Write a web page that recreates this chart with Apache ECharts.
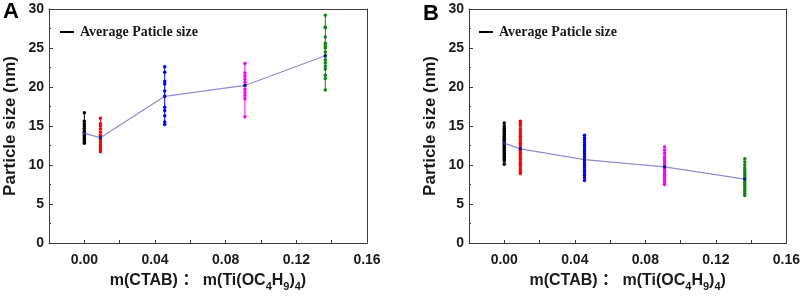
<!DOCTYPE html>
<html><head><meta charset="utf-8">
<script src="https://cdn.jsdelivr.net/npm/echarts@6/dist/echarts.min.js"></script>
<style>html,body{margin:0;padding:0;background:#fff}#c{width:803px;height:297px}</style>
</head><body><div id="c"></div>
<script>
// x positions: m(CTAB):m(Ti(OC4H9)4) ratios
const ratios = [0, 0.0091, 0.0455, 0.0909, 0.1364];
const groupColors = ['#000000', '#ff0000', '#0000ff', '#ff00ff', '#0a870a'];
const xTickLabels = ['0.00', '0.04', '0.08', '0.12', '0.16'];

// Panel A: individual particle sizes (nm)
const a0 = [16.7, 15.6, 15.3, 15.0, 14.7, 14.4, 14.2, 14.0, 13.8, 13.6, 13.4, 13.2, 13.0, 12.8];
const a1 = [16.0, 15.3, 15.0, 14.6, 14.2, 13.8, 13.5, 13.2, 12.9, 12.6, 12.3, 12.0, 11.7];
const a2 = [22.6, 21.9, 20.7, 20.4, 19.5, 18.8, 17.4, 17.0, 16.3, 15.5, 15.2];
const a3 = [23.0, 21.8, 21.4, 21.0, 20.6, 20.2, 19.7, 19.3, 18.9, 18.5, 16.2];
const a4 = [29.2, 27.7, 27.6, 26.4, 25.6, 25.3, 25.0, 24.5, 24.0, 23.5, 23.1, 22.7, 22.3, 21.5, 21.1, 19.6];
const avgA = [14.05, 13.5, 18.8, 20.2, 24.0];

// Panel B: individual particle sizes (nm)
const b0 = [15.4, 15.0, 14.7, 14.5, 14.3, 14.1, 13.9, 13.7, 13.5, 13.3, 13.1, 12.9, 12.7, 12.5, 12.3, 12.1, 11.9, 11.7, 11.5, 11.3, 11.1, 10.9, 10.7, 10.5, 10.1];
const b1 = [15.6, 15.3, 15.0, 14.6, 14.3, 14.0, 13.7, 13.4, 13.1, 12.8, 12.5, 12.2, 11.9, 11.6, 11.3, 11.0, 10.7, 10.4, 10.1, 9.8, 9.5, 9.2, 8.9];
const b2 = [13.8, 13.5, 13.2, 12.9, 12.6, 12.3, 12.0, 11.7, 11.4, 11.1, 10.8, 10.5, 10.2, 9.9, 9.6, 9.3, 9.0, 8.7, 8.4, 8.0];
const b3 = [12.3, 11.9, 11.5, 11.1, 10.8, 10.5, 10.2, 9.9, 9.6, 9.3, 9.0, 8.7, 8.4, 8.1, 7.8, 7.5];
const b4 = [10.8, 10.4, 10.0, 9.6, 9.3, 9.0, 8.7, 8.4, 8.1, 7.8, 7.5, 7.2, 6.9, 6.6, 6.3, 6.1];
const avgB = [12.8, 12.07, 10.7, 9.75, 8.2];

const legendName = 'Average Paticle size';
const SANS = "'Liberation Sans', Arial, 'Noto Sans CJK SC', sans-serif";
const SERIF = "'Liberation Serif', 'Times New Roman', serif";
const FRAME = '#3a3a3a';

const groupsA = [a0, a1, a2, a3, a4];
const groupsB = [b0, b1, b2, b3, b4];

function xAxisFor(gi) {
  return {
    type: 'value', gridIndex: gi, position: 'bottom', min: -0.02, max: 0.16, interval: 0.02,
    name: '{t|m(CTAB) ： m(Ti(OC}{s|4}{t|H}{s|9}{t|)}{s|4}{t|)}',
    nameLocation: 'middle', nameGap: 27,
    nameTextStyle: {
      rich: {
        t: { fontFamily: SANS, fontWeight: 'bold', fontSize: 16, color: '#1a1a1a', lineHeight: 22 },
        s: { fontFamily: SANS, fontWeight: 'bold', fontSize: 11, color: '#1a1a1a', lineHeight: 11, verticalAlign: 'bottom' }
      }
    },
    axisLine: { show: true, onZero: false, lineStyle: { color: FRAME, width: 1 } },
    axisTick: { show: true, inside: true, length: 3, lineStyle: { color: FRAME } },
    splitLine: { show: false },
    axisLabel: {
      fontFamily: SANS, fontWeight: 'bold', fontSize: 14, color: '#1a1a1a', margin: 10,
      formatter: function (v) {
        const k = Math.round(v / 0.02);
        if (k < 0 || k % 2 !== 0) return '';
        const s = v.toFixed(2);
        return xTickLabels.indexOf(s) >= 0 ? s : '';
      }
    }
  };
}
function xTopFor(gi) {
  return {
    type: 'value', gridIndex: gi, position: 'top', min: -0.02, max: 0.16,
    axisLine: { show: true, onZero: false, lineStyle: { color: FRAME, width: 1 } },
    axisTick: { show: false }, axisLabel: { show: false }, splitLine: { show: false }
  };
}
function yAxisFor(gi) {
  return {
    type: 'value', gridIndex: gi, position: 'left', min: 0, max: 30, interval: 5,
    name: 'Particle size (nm)', nameLocation: 'middle', nameGap: 30,
    nameTextStyle: { fontFamily: SANS, fontWeight: 'bold', fontSize: 17, color: '#1a1a1a' },
    axisLine: { show: true, onZero: false, lineStyle: { color: FRAME, width: 1 } },
    axisTick: { show: true, inside: true, length: 4, lineStyle: { color: FRAME } },
    minorTick: { show: true, splitNumber: 2, length: 2, lineStyle: { color: FRAME } },
    splitLine: { show: false },
    axisLabel: { fontFamily: SANS, fontWeight: 'bold', fontSize: 14, color: '#1a1a1a', margin: 5 }
  };
}
function yRightFor(gi) {
  return {
    type: 'value', gridIndex: gi, position: 'right', min: 0, max: 30,
    axisLine: { show: true, onZero: false, lineStyle: { color: FRAME, width: 1 } },
    axisTick: { show: false }, axisLabel: { show: false }, splitLine: { show: false }
  };
}

const series = [];
function addPanel(gi, groups, avg) {
  groups.forEach(function (vals, i) {
    series.push({
      type: 'line', xAxisIndex: gi, yAxisIndex: gi,
      data: vals.map(function (v) { return [ratios[i], v]; }),
      symbol: 'circle', symbolSize: 3.5,
      itemStyle: { color: groupColors[i] },
      lineStyle: { color: groupColors[i], width: 1 },
      silent: true, animation: false, z: 2
    });
  });
  series.push({
    name: legendName, type: 'line', xAxisIndex: gi, yAxisIndex: gi,
    data: avg.map(function (v, i) { return [ratios[i], v]; }),
    symbol: 'rect', symbolSize: 3,
    itemStyle: { color: '#1a1a8c' },
    lineStyle: { color: '#8c8cd2', width: 1.2 },
    animation: false, z: 3
  });
}
addPanel(0, groupsA, avgA);
addPanel(1, groupsB, avgB);

const legendCommon = {
  orient: 'horizontal', itemWidth: 14, itemHeight: 2, itemGap: 5, padding: 0,
  selectedMode: false,
  data: [{ name: legendName, icon: 'rect', itemStyle: { color: '#000' } }],
  textStyle: { fontFamily: SERIF, fontWeight: 'bold', fontSize: 14, color: '#1a1a1a', padding: [0, 0, 0, 1] }
};

const option = {
  backgroundColor: '#fff',
  animation: false,
  title: [
    { text: 'A', left: 3, top: 1, padding: 0, textStyle: { fontFamily: SANS, fontWeight: 'bold', fontSize: 22, color: '#000' } },
    { text: 'B', left: 423, top: 3, padding: 0, textStyle: { fontFamily: SANS, fontWeight: 'bold', fontSize: 22, color: '#000' } }
  ],
  legend: [
    Object.assign({}, legendCommon, { left: 60, top: 25 }),
    Object.assign({}, legendCommon, { left: 479, top: 25 })
  ],
  grid: [
    { left: 49, top: 9, width: 318, height: 237 },
    { left: 469, top: 9, width: 318, height: 236 }
  ],
  xAxis: [xAxisFor(0), xAxisFor(1), xTopFor(0), xTopFor(1)],
  yAxis: [yAxisFor(0), yAxisFor(1), yRightFor(0), yRightFor(1)],
  series: series
};

const chart = echarts.init(document.getElementById('c'), null, { renderer: 'canvas' });
chart.setOption(option);
</script>
</body></html>
